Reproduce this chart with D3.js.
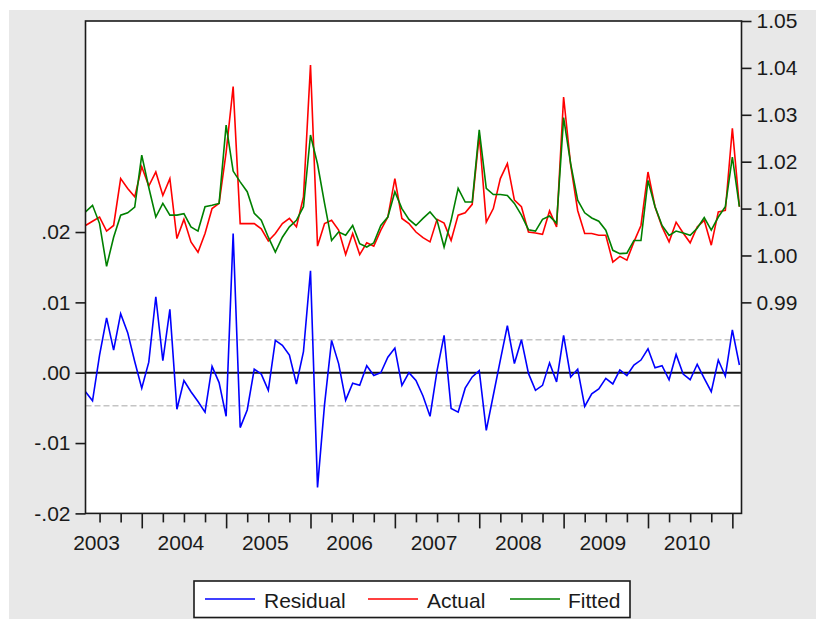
<!DOCTYPE html>
<html>
<head>
<meta charset="utf-8">
<script src="https://cdn.jsdelivr.net/npm/d3@7"></script>
<style>
  html, body { margin: 0; padding: 0; background: #ffffff; }
  svg { display: block; }
  text { font-family: "Liberation Sans", Arial, sans-serif; }
</style>
</head>
<body>
<svg id="chart" width="816" height="619"></svg>
<script>
// Monthly sample 2003M05 – 2011M02 (months counted from 2003M01 = 0)
const firstMonth = 4;

const residual = [
  -0.0027, -0.0040, 0.0025, 0.0078, 0.0032, 0.0084, 0.0057, 0.0016, -0.0022, 0.0015,
  0.0108, 0.0017, 0.0090, -0.0052, -0.0011, -0.0027, -0.0041, -0.0056, 0.0009, -0.0014,
  -0.0062, 0.0198, -0.0078, -0.0053, 0.0005, -0.0002, -0.0025, 0.0046, 0.0039, 0.0025,
  -0.0016, 0.0030, 0.0145, -0.0163, -0.0045, 0.0046, 0.0013, -0.0039, -0.0015, -0.0018,
  0.0010, -0.0004, 0.0000, 0.0022, 0.0035, -0.0018, 0.0000, -0.0011, -0.0033, -0.0062,
  0.0003, 0.0053, -0.0051, -0.0056, -0.0022, -0.0006, 0.0003, -0.0082, -0.0032, 0.0018,
  0.0067, 0.0013, 0.0047, -0.0001, -0.0025, -0.0018, 0.0014, -0.0013, 0.0053, -0.0006,
  0.0005, -0.0048, -0.0030, -0.0023, -0.0008, -0.0016, 0.0004, -0.0004, 0.0011, 0.0018,
  0.0034, 0.0007, 0.0010, -0.0010, 0.0026, -0.0002, -0.0010, 0.0012, -0.0008, -0.0027,
  0.0018, -0.0005, 0.0061, 0.0011
];

const actual = [
  1.0064, 1.0073, 1.0082, 1.0052, 1.0064, 1.0164, 1.0143, 1.0125, 1.0189, 1.0148,
  1.0178, 1.0128, 1.0164, 1.0036, 1.0077, 1.0029, 1.0007, 1.0047, 1.0100, 1.0111,
  1.0220, 1.0360, 1.0068, 1.0068, 1.0068, 1.0057, 1.0031, 1.0047, 1.0068, 1.0079,
  1.0061, 1.0125, 1.0406, 1.0020, 1.0068, 1.0075, 1.0054, 1.0002, 1.0047, 1.0002,
  1.0027, 1.0020, 1.0054, 1.0082, 1.0164, 1.0079, 1.0068, 1.0050, 1.0038, 1.0029,
  1.0077, 1.0069, 1.0032, 1.0086, 1.0091, 1.0109, 1.0257, 1.0071, 1.0100, 1.0164,
  1.0196, 1.0118, 1.0104, 1.0050, 1.0048, 1.0045, 1.0095, 1.0061, 1.0338, 1.0193,
  1.0096, 1.0047, 1.0047, 1.0043, 1.0043, 0.9986, 0.9998, 0.9990, 1.0029, 1.0064,
  1.0178, 1.0104, 1.0061, 1.0029, 1.0071, 1.0048, 1.0027, 1.0061, 1.0075, 1.0022,
  1.0093, 1.0096, 1.0271, 1.0104
];

const fitted = [
  1.0093, 1.0107, 1.0068, 0.9977, 1.0039, 1.0086, 1.0091, 1.0103, 1.0214, 1.0145,
  1.0082, 1.0111, 1.0086, 1.0086, 1.0089, 1.0061, 1.0052, 1.0104, 1.0107, 1.0111,
  1.0278, 1.0180, 1.0157, 1.0136, 1.0090, 1.0075, 1.0039, 1.0007, 1.0039, 1.0061,
  1.0075, 1.0104, 1.0257, 1.0195, 1.0111, 1.0032, 1.0050, 1.0043, 1.0064, 1.0025,
  1.0018, 1.0027, 1.0064, 1.0082, 1.0136, 1.0100, 1.0077, 1.0064, 1.0079, 1.0093,
  1.0075, 1.0018, 1.0075, 1.0143, 1.0114, 1.0114, 1.0268, 1.0143, 1.0130, 1.0130,
  1.0128, 1.0111, 1.0086, 1.0055, 1.0052, 1.0077, 1.0084, 1.0069, 1.0294, 1.0196,
  1.0118, 1.0091, 1.0080, 1.0073, 1.0054, 1.0011, 1.0004, 1.0005, 1.0032, 1.0032,
  1.0160, 1.0104, 1.0064, 1.0043, 1.0052, 1.0048, 1.0043, 1.0058, 1.0081, 1.0054,
  1.0082, 1.0104, 1.0210, 1.0104
];

const residualBand = 0.0047;           // ±1 S.E. of the regression
const yearLabels = ["2003", "2004", "2005", "2006", "2007", "2008", "2009", "2010"];
const leftTicks = [-0.02, -0.01, 0, 0.01, 0.02];
const rightTicks = [0.99, 1.00, 1.01, 1.02, 1.03, 1.04, 1.05];
const seriesNames = ["Residual", "Actual", "Fitted"];
const seriesColors = ["#0000ff", "#ff0000", "#008000"];

const svg = d3.select("#chart");
const W = 816, H = 619;
const plot = { left: 85.5, right: 741.5, top: 21, bottom: 513.4 };

// grey page behind the graph
svg.append("rect").attr("x", 9).attr("y", 10).attr("width", W - 9).attr("height", H - 10)
  .attr("fill", "#e8e8e8");
svg.append("rect").attr("x", plot.left).attr("y", plot.top)
  .attr("width", plot.right - plot.left).attr("height", plot.bottom - plot.top)
  .attr("fill", "#ffffff");

const x = d3.scaleLinear().domain([firstMonth, 97.3]).range([plot.left, plot.right]);
const yL = d3.scaleLinear().domain([-0.02, 0.05]).range([plot.bottom, plot.top]);
const yR = d3.scaleLinear().domain([0.945, 1.05]).range([plot.bottom, plot.top]);

const monthOf = i => firstMonth + i;

// reference lines for the residual
const refLines = svg.append("g");
[residualBand, -residualBand].forEach(v => {
  refLines.append("line")
    .attr("x1", plot.left).attr("x2", plot.right)
    .attr("y1", yL(v)).attr("y2", yL(v))
    .attr("stroke", "#c4c4c4").attr("stroke-width", 1.5)
    .attr("stroke-dasharray", "6,3");
});
refLines.append("line")
  .attr("x1", plot.left).attr("x2", plot.right)
  .attr("y1", yL(0)).attr("y2", yL(0))
  .attr("stroke", "#111").attr("stroke-width", 2);

const lineL = d3.line().x((d, i) => x(monthOf(i))).y(d => yL(d));
const lineR = d3.line().x((d, i) => x(monthOf(i))).y(d => yR(d));

svg.append("path").datum(residual).attr("d", lineL)
  .attr("fill", "none").attr("stroke", seriesColors[0]).attr("stroke-width", 1.6)
  .attr("stroke-linejoin", "miter");
svg.append("path").datum(actual).attr("d", lineR)
  .attr("fill", "none").attr("stroke", seriesColors[1]).attr("stroke-width", 1.6);
svg.append("path").datum(fitted).attr("d", lineR)
  .attr("fill", "none").attr("stroke", seriesColors[2]).attr("stroke-width", 1.6);

// frame
svg.append("rect").attr("x", plot.left).attr("y", plot.top)
  .attr("width", plot.right - plot.left).attr("height", plot.bottom - plot.top)
  .attr("fill", "none").attr("stroke", "#1a1a1a").attr("stroke-width", 1.6);

const textColor = "#1a1a1a";
const fontSize = "21px";
const fmtLeft = v => {
  const s = d3.format(".2f")(Math.abs(v)).replace(/^0/, "");
  return (v < 0 ? "-" : "") + s;
};

function styleAxis(g) {
  g.select(".domain").remove();
  g.selectAll(".tick line").attr("stroke", "#1a1a1a").attr("stroke-width", 1.6);
  g.selectAll(".tick text").attr("fill", textColor).style("font-size", fontSize)
    .style("font-family", '"Liberation Sans", Arial, sans-serif');
}

svg.append("g").attr("transform", `translate(${plot.left},0)`)
  .call(d3.axisLeft(yL).tickValues(leftTicks).tickSize(10).tickPadding(5).tickFormat(fmtLeft))
  .call(styleAxis);

svg.append("g").attr("transform", `translate(${plot.right},0)`)
  .call(d3.axisRight(yR).tickValues(rightTicks).tickSize(10).tickPadding(5).tickFormat(d3.format(".2f")))
  .call(styleAxis);

// quarterly ticks, longer at each January
const quarterMonths = d3.range(6, 97, 3);
const xTicks = svg.append("g").attr("transform", `translate(0,${plot.bottom})`)
  .call(d3.axisBottom(x).tickValues(quarterMonths).tickSize(9).tickFormat(""))
  .call(styleAxis);
xTicks.selectAll(".tick line").attr("y2", d => (d % 12 === 0 ? 15 : 9));

// year labels centred on each year's January–December span
const yearCentres = yearLabels.map((y, k) => 12 * k + 5.5);
svg.append("g").attr("transform", `translate(0,${plot.bottom})`)
  .call(d3.axisBottom(x).tickValues(yearCentres).tickSize(0).tickPadding(22)
    .tickFormat((d, k) => yearLabels[k]))
  .call(styleAxis);

// legend
const legend = svg.append("g");
legend.append("rect").attr("x", 194).attr("y", 581).attr("width", 436).attr("height", 36.5)
  .attr("fill", "#ffffff").attr("stroke", "#1a1a1a").attr("stroke-width", 1.6);
const legendItems = [
  { x1: 205, tx: 264 },
  { x1: 368, tx: 427 },
  { x1: 510, tx: 568 }
];
legendItems.forEach((it, k) => {
  legend.append("line").attr("x1", it.x1).attr("x2", it.x1 + 50)
    .attr("y1", 599).attr("y2", 599)
    .attr("stroke", seriesColors[k]).attr("stroke-width", 1.6);
  legend.append("text").attr("x", it.tx).attr("y", 607.5)
    .attr("fill", textColor).style("font-size", fontSize)
    .text(seriesNames[k]);
});
</script>
</body>
</html>
